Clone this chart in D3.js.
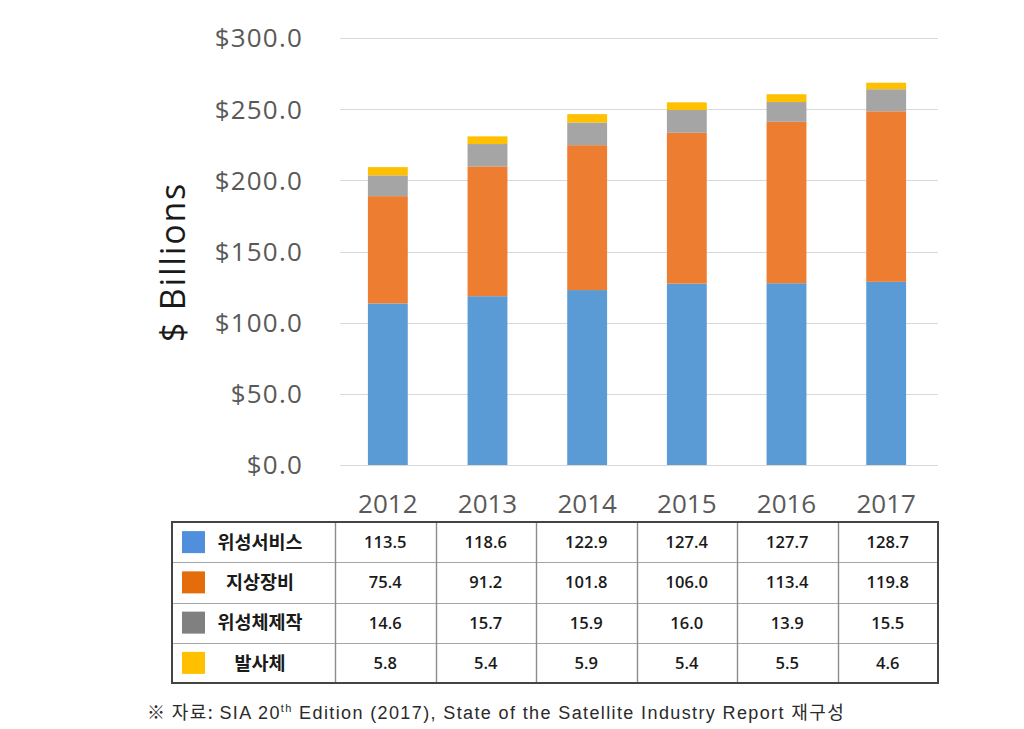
<!DOCTYPE html>
<html>
<head>
<meta charset="utf-8">
<script src="https://cdn.jsdelivr.net/npm/d3@7"></script>
<style>
  html, body { margin: 0; padding: 0; background: #fff; }
  svg { display: block; }
</style>
</head>
<body>
<svg id="chart" width="1024" height="729"></svg>
<script>
const years = ["2012", "2013", "2014", "2015", "2016", "2017"];
const seriesNames = ["위성서비스", "지상장비", "위성체제작", "발사체"];
const satServices = [113.5, 118.6, 122.9, 127.4, 127.7, 128.7];
const groundEquip = [75.4, 91.2, 101.8, 106.0, 113.4, 119.8];
const satManufacturing = [14.6, 15.7, 15.9, 16.0, 13.9, 15.5];
const launch = [5.8, 5.4, 5.9, 5.4, 5.5, 4.6];
const yTicks = [0, 50, 100, 150, 200, 250, 300];
const barColors = ["#5B9BD5", "#ED7D31", "#A5A5A5", "#FFC000"];
const swatchColors = ["#4F8FDB", "#E46C0A", "#808080", "#FFC000"];

const seriesValues = [satServices, groundEquip, satManufacturing, launch];
const keys = ["s0", "s1", "s2", "s3"];
const rows = years.map((y, i) => {
  const r = { year: y };
  keys.forEach((k, j) => r[k] = seriesValues[j][i]);
  return r;
});

const svg = d3.select("#chart");

const x = d3.scaleBand().domain(years).range([338, 936]).paddingInner(0.6).paddingOuter(0.3);
const y = d3.scaleLinear().domain([0, 300]).range([465, 38]);

// gridlines
svg.append("g").selectAll("line").data(yTicks).join("line")
  .attr("x1", 340).attr("x2", 938)
  .attr("y1", d => Math.round(y(d)) + 0.5).attr("y2", d => Math.round(y(d)) + 0.5)
  .attr("stroke", "#d9d9d9").attr("stroke-width", 1);

// y axis labels
const yAxis = d3.axisLeft(y).tickValues(yTicks).tickFormat(d => "$" + d3.format(".1f")(d)).tickSize(0).tickPadding(0);
const yg = svg.append("g").attr("transform", "translate(303,0)").call(yAxis);
yg.select(".domain").remove();
yg.selectAll("text")
  .attr("font-family", "'Open Sans', sans-serif")
  .attr("font-size", 26)
  .attr("letter-spacing", 1.2)
  .attr("fill", "#595959")
  .attr("dy", "0.34em");

// y axis title
svg.append("text")
  .attr("transform", "translate(173,262) rotate(-90)")
  .attr("text-anchor", "middle")
  .attr("dy", "0.35em")
  .attr("font-family", "'Open Sans', sans-serif")
  .attr("font-size", 34)
  .attr("letter-spacing", 1.8)
  .attr("fill", "#1a1a1a")
  .text("$ Billions");

// stacked bars
const stack = d3.stack().keys(keys)(rows);
svg.append("g").selectAll("g").data(stack).join("g")
  .attr("fill", (d, i) => barColors[i])
  .selectAll("rect").data(d => d).join("rect")
  .attr("x", d => x(d.data.year))
  .attr("width", x.bandwidth())
  .attr("y", d => y(d[1]))
  .attr("height", d => y(d[0]) - y(d[1]));

// x axis labels
const xAxis = d3.axisBottom(x).tickSize(0).tickPadding(0);
const xg = svg.append("g").attr("transform", "translate(0,504)").call(xAxis);
xg.select(".domain").remove();
xg.selectAll("text")
  .attr("font-family", "'Open Sans', sans-serif")
  .attr("font-size", 26)
  .attr("fill", "#595959")
  .attr("dy", "0.35em")
  .attr("y", 0);

// data table
const colX = d3.scaleBand().domain(years).range([335, 938]);
const rowY = d3.scaleBand().domain(seriesNames).range([522, 683]);
const tbl = svg.append("g");
const tLeft = 172, tRight = 938, tTop = 522, tBottom = 683;

// inner horizontal lines
tbl.selectAll("line.h").data(seriesNames.slice(1)).join("line")
  .attr("x1", tLeft).attr("x2", tRight)
  .attr("y1", d => Math.round(rowY(d)) + 0.5).attr("y2", d => Math.round(rowY(d)) + 0.5)
  .attr("stroke", "#a6a6a6").attr("stroke-width", 1.2);
// inner vertical lines
tbl.selectAll("line.v").data(years).join("line")
  .attr("y1", tTop).attr("y2", tBottom)
  .attr("x1", d => Math.round(colX(d)) + 0.5).attr("x2", d => Math.round(colX(d)) + 0.5)
  .attr("stroke", "#8c8c8c").attr("stroke-width", 1.4);
// outer border
tbl.append("rect")
  .attr("x", tLeft).attr("y", tTop)
  .attr("width", tRight - tLeft).attr("height", tBottom - tTop)
  .attr("fill", "none").attr("stroke", "#444").attr("stroke-width", 2);

// row headers
const rh = tbl.selectAll("g.rh").data(seriesNames).join("g");
rh.append("rect")
  .attr("x", 182).attr("width", 23).attr("height", 22)
  .attr("y", d => rowY(d) + rowY.bandwidth() / 2 - 11)
  .attr("fill", (d, i) => swatchColors[i]);
rh.append("text")
  .attr("x", 260)
  .attr("y", d => rowY(d) + rowY.bandwidth() / 2)
  .attr("dy", "0.36em")
  .attr("text-anchor", "middle")
  .attr("font-family", "'Noto Sans CJK KR', sans-serif")
  .attr("font-weight", 700)
  .attr("font-size", 18.5)
  .attr("fill", "#1a1a1a")
  .text(d => d);

// cell values
seriesNames.forEach((name, j) => {
  tbl.append("g").selectAll("text").data(seriesValues[j]).join("text")
    .attr("x", (d, i) => colX(years[i]) + colX.bandwidth() / 2)
    .attr("y", rowY(name) + rowY.bandwidth() / 2)
    .attr("dy", "0.36em")
    .attr("text-anchor", "middle")
    .attr("font-family", "'Open Sans', sans-serif")
    .attr("font-weight", 600)
    .attr("font-size", 16.5)
    .attr("fill", "#1a1a1a")
    .text(d => d3.format(".1f")(d));
});

// footnote
const fn = svg.append("text")
  .attr("x", 147).attr("y", 719)
  .attr("font-family", "'Liberation Sans', 'Noto Sans CJK KR', sans-serif")
  .attr("font-size", 18)
  .attr("letter-spacing", 1.38)
  .attr("fill", "#2a2a2a");
fn.append("tspan").attr("font-family", "'Noto Sans CJK KR', sans-serif").text("※ 자료: ");
fn.append("tspan").text("SIA 20");
fn.append("tspan").attr("font-size", 11).attr("dy", -7).text("th");
fn.append("tspan").attr("dy", 7).text(" Edition (2017), State of the Satellite Industry Report ");
fn.append("tspan").attr("font-family", "'Noto Sans CJK KR', sans-serif").text("재구성");
</script>
</body>
</html>
